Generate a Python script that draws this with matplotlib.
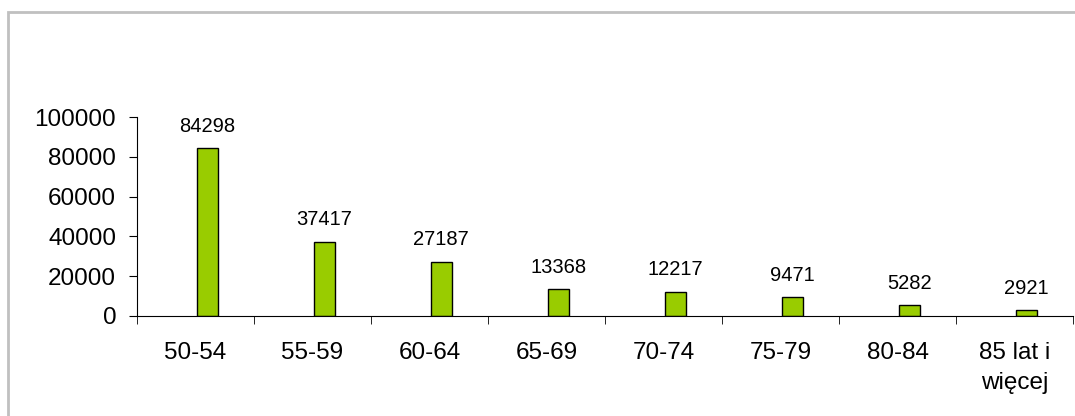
import matplotlib.pyplot as plt
from matplotlib.patches import Rectangle
import numpy as np

plt.rcParams['font.family'] = ['Liberation Sans', 'DejaVu Sans']

categories = ['50-54', '55-59', '60-64', '65-69', '70-74', '75-79', '80-84', '85 lat i\nwięcej']
values = [84298, 37417, 27187, 13368, 12217, 9471, 5282, 2921]
yticks = [0, 20000, 40000, 60000, 80000, 100000]

W, H = 1075, 416
fig = plt.figure(figsize=(W / 100, H / 100), dpi=100)

# szara ramka wokół wykresu (ucięta z prawej i od dołu)
fig.patches.append(Rectangle((7.5 / W, -0.1), 1.2, (H - 12.5) / H + 0.1,
                             transform=fig.transFigure, fill=False,
                             edgecolor='#c0c0c0', linewidth=2))

ax = fig.add_axes([137 / W, 1 - 316 / H, (1073 - 137) / W, (316 - 117) / H])

x = np.arange(len(categories))
bars = ax.bar(x + 0.1, values, width=0.18, color='#99cc00',
              edgecolor='black', linewidth=1)
for b, v in zip(bars, values):
    ax.annotate(str(v), (b.get_x() + b.get_width() / 2, v),
                xytext=(0, 9), textcoords='offset points',
                ha='center', va='bottom', fontsize=14.5)

ax.set_xlim(-0.5, len(categories) - 0.5)
ax.set_ylim(0, 100000)
ax.set_yticks(yticks)
ax.set_yticklabels([str(t) for t in yticks], fontsize=17.5)
ax.set_xticks(x)
ax.set_xticklabels(categories, fontsize=17.5, linespacing=1.45)
ax.set_xticks(np.arange(len(categories) + 1) - 0.5, minor=True)
ax.tick_params(axis='x', which='major', length=0, pad=19)
ax.tick_params(axis='x', which='minor', length=6, direction='out')
ax.tick_params(axis='y', length=6, direction='out', pad=9)

for s in ['top', 'right']:
    ax.spines[s].set_visible(False)
ax.patch.set_alpha(0)

fig.savefig('out.png', dpi=100)
